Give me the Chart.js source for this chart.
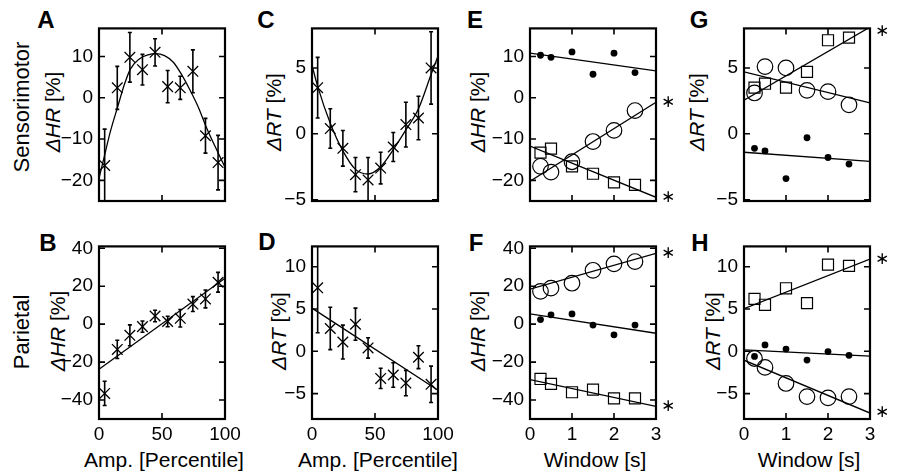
<!DOCTYPE html>
<html>
<head>
<meta charset="utf-8">
<title>Amplitude and window effects on HR and RT</title>
<script src="https://cdn.jsdelivr.net/npm/chart.js@4.4.1/dist/chart.umd.min.js"></script>
<style>
  body { margin: 0; background: #fff; }
  #fig { position: relative; width: 897px; height: 473px; overflow: hidden; font-family: "Liberation Sans", Arial, sans-serif; color: #000; }
  #fig canvas { position: absolute; }
  .t { position: absolute; white-space: nowrap; line-height: 1; transform: translate(-50%, -50%); }
  .v { transform: translate(-50%, -50%) rotate(-90deg); }
  .letter { font-weight: bold; font-size: 24px; }
  .row { font-size: 22px; }
  .ttl { font-size: 21px; }
</style>
</head>
<body>
<div id="fig">
  <div class="t letter" style="left:46px;top:20px">A</div>
  <div class="t letter" style="left:266px;top:20px">C</div>
  <div class="t letter" style="left:475px;top:20px">E</div>
  <div class="t letter" style="left:699px;top:20px">G</div>
  <div class="t letter" style="left:48px;top:243px">B</div>
  <div class="t letter" style="left:267px;top:242px">D</div>
  <div class="t letter" style="left:476px;top:243px">F</div>
  <div class="t letter" style="left:700px;top:243px">H</div>

  <div class="t v row" style="left:22px;top:107px">Sensorimotor</div>
  <div class="t v row" style="left:22px;top:332px">Parietal</div>

  <div class="t v ttl" style="left:52px;top:112px"><i>ΔHR</i> [%]</div>
  <div class="t v ttl" style="left:273px;top:112px"><i>ΔRT</i> [%]</div>
  <div class="t v ttl" style="left:477px;top:112px"><i>ΔHR</i> [%]</div>
  <div class="t v ttl" style="left:696px;top:112px"><i>ΔRT</i> [%]</div>
  <div class="t v ttl" style="left:57px;top:331px"><i>ΔHR</i> [%]</div>
  <div class="t v ttl" style="left:278px;top:331px"><i>ΔRT</i> [%]</div>
  <div class="t v ttl" style="left:477px;top:331px"><i>ΔHR</i> [%]</div>
  <div class="t v ttl" style="left:712px;top:331px"><i>ΔRT</i> [%]</div>

  <div class="t ttl" style="left:164px;top:459px">Amp. [Percentile]</div>
  <div class="t ttl" style="left:378px;top:459px">Amp. [Percentile]</div>
  <div class="t ttl" style="left:595px;top:459px">Window [s]</div>
  <div class="t ttl" style="left:809px;top:459px">Window [s]</div>
</div>
<script>
// x positions
const ampX = [4.5, 14.5, 24.5, 34.5, 44.5, 54.5, 64.5, 74.5, 84.5, 94.5];
const winX = [0.25, 0.5, 1, 1.5, 2, 2.5];

// tick values
const ampTicks = [0, 50, 100];
const winTicks = [0, 1, 2, 3];
const hrTopTicks = [-20, -10, 0, 10];
const hrBotTicks = [-40, -20, 0, 20, 40];
const rtTopTicks = [-5, 0, 5];
const rtBotTicks = [-5, 0, 5, 10];

// A: sensorimotor, HR vs amplitude
const hrSensY = [-16.4, 2.4, 9.8, 6.8, 11.0, 2.7, 2.4, 6.4, -9.2, -15.7];
const hrSensErr = [8.8, 5.2, 6.0, 3.7, 3.3, 3.9, 2.8, 5.2, 4.2, 6.6];
const hrSensFitX = [0, 4, 9, 15, 20, 25, 32, 39, 45, 52, 59, 65, 72, 79, 85, 92, 100];
const hrSensFitY = [-19.5, -14.5, -8.2, -2.0, 3.1, 7.0, 9.4, 10.4, 10.7, 10.2, 8.6, 5.9, 2.0, -2.4, -7.0, -11.7, -16.8];

// B: parietal, HR vs amplitude
const hrParY = [-36.5, -13.3, -5.9, -1.3, 4.3, 1.4, 3.1, 10.6, 13.3, 22.1];
const hrParErr = [6.4, 4.8, 5.5, 3.0, 3.0, 2.8, 4.6, 3.9, 4.7, 5.2];
const hrParFitX = [0, 100];
const hrParFitY = [-23.8, 24.2];

// C: sensorimotor, RT vs amplitude
const rtSensY = [3.5, 0.4, -1.1, -3.1, -3.5, -2.6, -1.0, 0.7, 1.2, 5.0];
const rtSensErr = [2.3, 1.5, 1.35, 1.3, 1.7, 1.2, 1.1, 1.7, 1.65, 2.75];
const rtSensFitX = [0, 4.5, 14.5, 24.5, 34.5, 44.5, 54.5, 64.5, 74.5, 84.5, 94.5, 100];
const rtSensFitY = [5.2, 3.6, 0.8, -1.3, -2.7, -3.05, -2.5, -1.2, 0.3, 1.9, 4.5, 5.9];

// D: parietal, RT vs amplitude
const rtParY = [7.5, 2.7, 1.1, 3.2, 0.4, -3.2, -2.8, -3.75, -0.7, -3.9];
const rtParErr = [5.3, 2.5, 2.0, 1.9, 1.2, 1.2, 1.45, 1.5, 1.35, 2.15];
const rtParFitX = [0, 100];
const rtParFitY = [5.1, -4.6];

// E: sensorimotor, HR vs window
const hrSensDot = [10.3, 9.8, 11.1, 5.7, 10.8, 6.1];
const hrSensCirc = [-16.6, -18.0, -15.5, -10.6, -7.9, -3.1];
const hrSensSq = [-13.3, -12.3, -16.6, -18.4, -20.5, -21.1];
const hrSensDotFit = [10.8, 6.5];
const hrSensCircFit = [-20.2, -1.1];
const hrSensSqFit = [-11.7, -24.1];

// F: parietal, HR vs window
const hrParDot = [2.4, 4.9, 5.4, -0.5, -5.6, -0.5];
const hrParCirc = [17.3, 19.0, 21.6, 28.4, 31.8, 33.0];
const hrParSq = [-28.9, -31.5, -35.9, -34.5, -39.1, -39.1];
const hrParDotFit = [5.4, -4.8];
const hrParCircFit = [18.5, 37.3];
const hrParSqFit = [-29.2, -43.3];

// G: sensorimotor, RT vs window
const rtSensDot = [-1.1, -1.3, -3.4, -0.3, -1.8, -2.3];
const rtSensCirc = [3.1, 5.1, 5.0, 3.3, 3.2, 2.2];
const rtSensSq = [3.5, 3.8, 3.5, 4.7, 7.1, 7.3];
const rtSensDotFit = [-1.4, -2.1];
const rtSensCircFit = [4.7, 2.35];
const rtSensSqFit = [2.55, 8.1];

// H: parietal, RT vs window
const rtParDot = [-0.6, 0.75, 0.27, -1.04, -0.03, -0.48];
const rtParCirc = [-0.85, -1.9, -3.8, -5.35, -5.5, -5.35];
const rtParSq = [6.2, 5.5, 7.45, 5.7, 10.25, 10.1];
const rtParDotFit = [0.16, -0.56];
const rtParCircFit = [-1.05, -7.3];
const rtParSqFit = [5.05, 10.9];

const winFitX = [0, 3];

// layout
const PAD_L = 50, PAD_R = 30, PAD_T = 12, PAD_B = 34, TICK = 6;
const fig = document.getElementById('fig');
const FONT = { family: 'Liberation Sans', size: 19 };

const pts = (xs, ys) => xs.map((x, i) => ({ x: x, y: ys[i] }));

function crosses(xs, ys, errs) {
    return { data: pts(xs, ys), errors: errs, pointStyle: 'crossRot', pointRadius: 7.5,
             borderColor: '#000', borderWidth: 1.3 };
}
function circles(xs, ys) {
    return { data: pts(xs, ys), pointStyle: 'circle', pointRadius: 7.8,
             backgroundColor: 'rgba(0,0,0,0)', borderColor: '#000', borderWidth: 1.2 };
}
function squares(xs, ys) {
    return { data: pts(xs, ys), pointStyle: 'rect', pointRadius: 7.8,
             backgroundColor: 'rgba(0,0,0,0)', borderColor: '#000', borderWidth: 1.2 };
}
function dots(xs, ys) {
    return { data: pts(xs, ys), pointStyle: 'circle', pointRadius: 3.4,
             backgroundColor: '#000', borderColor: '#000', borderWidth: 0 };
}
function fit(xs, ys, star, smooth) {
    return { type: 'line', data: pts(xs, ys), borderColor: '#000', borderWidth: 1.3,
             pointRadius: 0, fill: false, tension: 0, star: !!star,
             cubicInterpolationMode: smooth ? 'monotone' : 'default' };
}

// frame, inward ticks, error bars and significance stars
const framePlugin = {
    id: 'frame',
    afterDatasetsDraw(chart) {
        const { ctx, chartArea: a, scales: { x, y } } = chart;
        ctx.save();
        ctx.beginPath();
        ctx.rect(a.left, a.top, a.width, a.height);
        ctx.clip();
        ctx.strokeStyle = '#000';
        ctx.lineWidth = 1.6;
        chart.data.datasets.forEach(ds => {
            if (!ds.errors) return;
            ds.data.forEach((p, i) => {
                const px = x.getPixelForValue(p.x);
                const hi = y.getPixelForValue(p.y + ds.errors[i]);
                const lo = y.getPixelForValue(p.y - ds.errors[i]);
                ctx.beginPath();
                ctx.moveTo(px, hi); ctx.lineTo(px, lo);
                ctx.moveTo(px - 2, hi); ctx.lineTo(px + 2, hi);
                ctx.moveTo(px - 2, lo); ctx.lineTo(px + 2, lo);
                ctx.stroke();
            });
        });
        ctx.restore();

        ctx.save();
        ctx.strokeStyle = '#000';
        ctx.lineWidth = 2.2;
        ctx.strokeRect(a.left, a.top, a.width, a.height);
        ctx.lineWidth = 1.6;
        ctx.beginPath();
        x.ticks.forEach(t => {
            const px = x.getPixelForValue(t.value);
            ctx.moveTo(px, a.bottom); ctx.lineTo(px, a.bottom - TICK);
            ctx.moveTo(px, a.top); ctx.lineTo(px, a.top + TICK);
        });
        y.ticks.forEach(t => {
            const py = y.getPixelForValue(t.value);
            ctx.moveTo(a.left, py); ctx.lineTo(a.left + TICK, py);
            ctx.moveTo(a.right, py); ctx.lineTo(a.right - TICK, py);
        });
        ctx.stroke();

        ctx.fillStyle = '#000';
        ctx.font = '17px "DejaVu Sans"';
        ctx.textAlign = 'center';
        ctx.textBaseline = 'middle';
        chart.data.datasets.forEach(ds => {
            if (!ds.star) return;
            const last = ds.data[ds.data.length - 1];
            let py = y.getPixelForValue(last.y);
            py = Math.min(Math.max(py, a.top + 3), a.bottom - 3);
            ctx.fillText('\u2217', a.right + 12, py);
        });
        ctx.restore();
    }
};

function axis(range, vals, show, dir) {
    return {
        type: 'linear', min: range[0], max: range[1],
        grid: { display: false, drawTicks: false },
        border: { display: false },
        afterBuildTicks: s => { s.ticks = vals.map(v => ({ value: v })); },
        afterFit: s => { if (dir === 'x') s.height = PAD_B; else s.width = PAD_L; },
        ticks: {
            display: show, color: '#000', font: FONT, autoSkip: false, maxRotation: 0,
            padding: dir === 'x' ? 4 : 6,
            callback: v => String(v).replace('-', '\u2212')
        }
    };
}

function panel(box, xRange, xTicks, yRange, yTicks, showX, datasets) {
    const cv = document.createElement('canvas');
    cv.width = box.w + PAD_L + PAD_R;
    cv.height = box.h + PAD_T + PAD_B;
    cv.style.left = (box.l - PAD_L) + 'px';
    cv.style.top = (box.t - PAD_T) + 'px';
    fig.appendChild(cv);
    new Chart(cv, {
        type: 'scatter',
        data: { datasets: datasets },
        options: {
            responsive: false, animation: false, devicePixelRatio: 1,
            layout: { padding: { left: 0, top: PAD_T, right: PAD_R, bottom: 0 } },
            plugins: { legend: { display: false }, tooltip: { enabled: false } },
            scales: {
                x: axis(xRange, xTicks, showX, 'x'),
                y: axis(yRange, yTicks, true, 'y')
            }
        },
        plugins: [framePlugin]
    });
}

const colL = [99, 312, 530, 744];
const rowT = [23, 241];
const W = 126, Hh = 178;
const box = (c, r) => ({ l: colL[c], t: rowT[r], w: W, h: Hh });

const ampRange = [0, 100], winRange = [0, 3];
const hrTopRange = [-25, 16.8], hrBotRange = [-50, 41];
const rtTopRange = [-5.1, 8], rtBotRange = [-8, 12.4];

// A
panel(box(0, 0), ampRange, ampTicks, hrTopRange, hrTopTicks, false, [
    crosses(ampX, hrSensY, hrSensErr),
    fit(hrSensFitX, hrSensFitY, false, true)
]);
// B
panel(box(0, 1), ampRange, ampTicks, hrBotRange, hrBotTicks, true, [
    crosses(ampX, hrParY, hrParErr),
    fit(hrParFitX, hrParFitY)
]);
// C
panel(box(1, 0), ampRange, ampTicks, rtTopRange, rtTopTicks, false, [
    crosses(ampX, rtSensY, rtSensErr),
    fit(rtSensFitX, rtSensFitY, false, true)
]);
// D
panel(box(1, 1), ampRange, ampTicks, rtBotRange, rtBotTicks, true, [
    crosses(ampX, rtParY, rtParErr),
    fit(rtParFitX, rtParFitY)
]);
// E
panel(box(2, 0), winRange, winTicks, hrTopRange, hrTopTicks, false, [
    dots(winX, hrSensDot), circles(winX, hrSensCirc), squares(winX, hrSensSq),
    fit(winFitX, hrSensDotFit), fit(winFitX, hrSensCircFit, true), fit(winFitX, hrSensSqFit, true)
]);
// F
panel(box(2, 1), winRange, winTicks, hrBotRange, hrBotTicks, true, [
    dots(winX, hrParDot), circles(winX, hrParCirc), squares(winX, hrParSq),
    fit(winFitX, hrParDotFit), fit(winFitX, hrParCircFit, true), fit(winFitX, hrParSqFit, true)
]);
// G
panel(box(3, 0), winRange, winTicks, rtTopRange, rtTopTicks, false, [
    dots(winX, rtSensDot), circles(winX, rtSensCirc), squares(winX, rtSensSq),
    fit(winFitX, rtSensDotFit), fit(winFitX, rtSensCircFit), fit(winFitX, rtSensSqFit, true)
]);
// H
panel(box(3, 1), winRange, winTicks, rtBotRange, rtBotTicks, true, [
    dots(winX, rtParDot), circles(winX, rtParCirc), squares(winX, rtParSq),
    fit(winFitX, rtParDotFit), fit(winFitX, rtParCircFit, true), fit(winFitX, rtParSqFit, true)
]);
</script>
</body>
</html>
